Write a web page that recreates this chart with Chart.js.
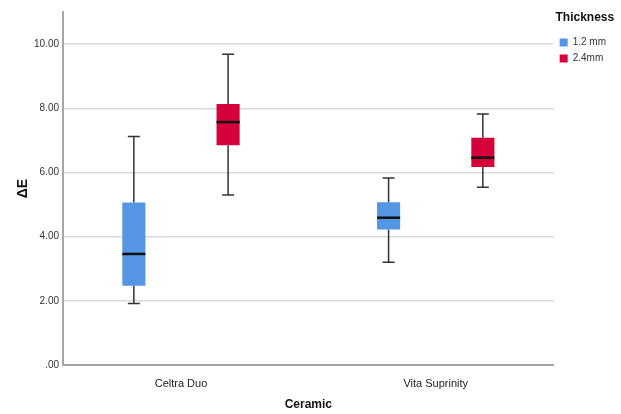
<!DOCTYPE html>
<html><head><meta charset="utf-8">
<script src="https://cdn.jsdelivr.net/npm/chart.js@4.4.0/dist/chart.umd.min.js"></script>
<style>html,body{margin:0;padding:0;background:#fff}#wrap{width:621px;height:414px}</style>
</head><body><div id="wrap"><canvas id="c" width="621" height="414"></canvas></div>
<script>
const categories = ['Celtra Duo', 'Vita Suprinity'];
const seriesNames = ['1.2 mm', '2.4mm'];
const thinMin = [1.92, 3.20];
const thinQ1 = [2.47, 4.22];
const thinMedian = [3.46, 4.59];
const thinQ3 = [5.06, 5.07];
const thinMax = [7.12, 5.83];
const thickMin = [5.30, 5.54];
const thickQ1 = [6.85, 6.17];
const thickMedian = [7.57, 6.46];
const thickQ3 = [8.13, 7.08];
const thickMax = [9.68, 7.82];
const yTicks = [0, 2, 4, 6, 8, 10];

const stats = [
  {min: thinMin, q1: thinQ1, med: thinMedian, q3: thinQ3, max: thinMax},
  {min: thickMin, q1: thickQ1, med: thickMedian, q3: thickQ3, max: thickMax}
];

// category-axis edge offset (in category units) to match the reference spacing
const xEdgeOffset = 0.463;
const xOffsetPlugin = {
  id: 'xEdgeOffset',
  afterLayout(chart) {
    const s = chart.scales.x;
    s._startValue = -xEdgeOffset;
    s._valueRange = (categories.length - 1) + 2 * xEdgeOffset;
  }
};

const boxPlugin = {
  id: 'boxWhiskers',
  afterDatasetsDraw(chart) {
    const ctx = chart.ctx;
    const y = chart.scales.y;
    chart.data.datasets.forEach((ds, di) => {
      const meta = chart.getDatasetMeta(di);
      const s = stats[di];
      meta.data.forEach((bar, i) => {
        const x = bar.x, w = bar.width;
        const pMin = y.getPixelForValue(s.min[i]);
        const pQ1 = y.getPixelForValue(s.q1[i]);
        const pQ3 = y.getPixelForValue(s.q3[i]);
        const pMax = y.getPixelForValue(s.max[i]);
        const pMed = y.getPixelForValue(s.med[i]);
        ctx.save();
        ctx.strokeStyle = '#333333';
        ctx.lineWidth = 1.5;
        ctx.beginPath();
        ctx.moveTo(x, pQ3); ctx.lineTo(x, pMax);
        ctx.moveTo(x - 6, pMax); ctx.lineTo(x + 6, pMax);
        ctx.moveTo(x, pQ1); ctx.lineTo(x, pMin);
        ctx.moveTo(x - 6, pMin); ctx.lineTo(x + 6, pMin);
        ctx.stroke();
        ctx.strokeStyle = '#111111';
        ctx.lineWidth = 2.5;
        ctx.beginPath();
        ctx.moveTo(x - w / 2, pMed); ctx.lineTo(x + w / 2, pMed);
        ctx.stroke();
        ctx.restore();
      });
    });
  }
};

new Chart(document.getElementById('c'), {
  type: 'bar',
  data: {
    labels: categories,
    datasets: [
      {label: seriesNames[0], data: categories.map((c, i) => [thinQ1[i], thinQ3[i]]), backgroundColor: '#5596e4', borderWidth: 0},
      {label: seriesNames[1], data: categories.map((c, i) => [thickQ1[i], thickQ3[i]]), backgroundColor: '#d6003b', borderWidth: 0}
    ]
  },
  options: {
    responsive: false,
    animation: false,
    layout: {padding: {left: 16, right: 5, top: 12, bottom: 3}},
    categoryPercentage: 0.74,
    barPercentage: 0.245,
    plugins: {
      tooltip: {enabled: false},
      legend: {
        position: 'right',
        align: 'start',
        title: {display: true, text: 'Thickness', color: '#111', font: {family: 'Arial, Liberation Sans', size: 12, weight: 'bold'}, padding: {top: 0, bottom: 5}},
        labels: {boxWidth: 8, boxHeight: 8, padding: 6, color: '#333', font: {family: 'Arial, Liberation Sans', size: 10, lineHeight: 1}}
      }
    },
    scales: {
      x: {
        grid: {display: false, drawTicks: false},
        border: {color: '#a6a6a6', width: 2},
        ticks: {color: '#222', padding: 13, font: {family: 'Arial, Liberation Sans', size: 11, lineHeight: 1}},
        title: {display: true, text: 'Ceramic', color: '#111', padding: {top: -3, bottom: 0}, font: {family: 'Arial, Liberation Sans', size: 12, weight: 'bold', lineHeight: 1}}
      },
      y: {
        min: 0, max: 11,
        afterBuildTicks: (axis) => { axis.ticks = yTicks.map(v => ({value: v})); },
        grid: {color: '#d9d9d9', lineWidth: 1.5, drawTicks: false},
        border: {color: '#a6a6a6', width: 2},
        ticks: {color: '#333', padding: 4, font: {family: 'Arial, Liberation Sans', size: 10},
          callback: (v) => v === 0 ? '.00' : Number(v).toFixed(2)},
        title: {display: true, text: 'ΔE', color: '#111', padding: {top: 0, bottom: 0}, font: {family: 'Arial, Liberation Sans', size: 14, weight: 'bold', lineHeight: 1}}
      }
    }
  },
  plugins: [xOffsetPlugin, boxPlugin]
});
</script></body></html>
